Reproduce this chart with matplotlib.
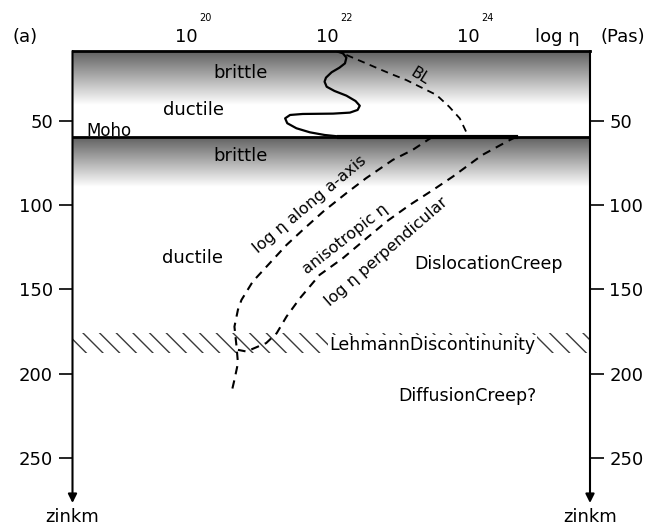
import numpy as np
import matplotlib
matplotlib.use('Agg')
import matplotlib.pyplot as plt
from matplotlib.patches import Rectangle

plt.rcParams['font.family'] = ['DejaVu Sans']

# x = log10 viscosity (Pa s), y = depth z in km
x_min, x_max = 18.22, 25.57
z_top, z_bot = 8.15, 277.0
moho = 59.3
lehmann = (175.8, 187.7)
depth_ticks = [50, 100, 150, 200, 250]
exp_ticks = [20, 22, 24]

# crustal viscosity profile (solid)
crust_x = [21.99, 22.06, 22.11, 22.09, 22.01, 21.90, 21.82, 21.80, 21.83, 21.94,
           22.11, 22.24, 22.30, 22.27, 22.16, 21.92, 21.49, 21.31, 21.24, 21.27,
           21.40, 21.59, 21.80, 22.01]
crust_z = [8.6, 9.5, 12.1, 15.5, 18.1, 20.8, 24.0, 26.4, 29.4, 31.9,
           34.7, 37.9, 40.7, 43.2, 44.8, 45.4, 45.6, 46.2, 48.2, 51.1,
           54.1, 56.5, 58.1, 59.0]
moho_seg_x = [22.00, 24.52]

# BL (dashed)
bl_x = [22.11, 22.39, 22.72, 22.96, 23.39, 23.57, 23.72, 23.81, 23.83]
bl_z = [10.5, 15.5, 21.4, 25.4, 34.3, 41.3, 48.2, 56.1, 59.3]

# log eta along a-axis
axis_x = [23.33, 23.05, 22.77, 22.39, 22.11, 21.78, 21.49, 21.26, 21.02, 20.78,
          20.62, 20.57, 20.52, 20.55, 20.57, 20.52, 20.48]
axis_z = [59.3, 67.0, 72.9, 83.8, 92.7, 103.7, 114.6, 123.5, 134.4, 145.3,
          156.2, 162.0, 172.1, 184.0, 193.8, 203.7, 210.9]

# log eta perpendicular
perp_x = [24.52, 24.43, 24.04, 23.62, 23.34, 23.01, 22.68, 22.34, 22.06, 21.73,
          21.45, 21.26, 21.12, 20.97, 20.69, 20.57]
perp_z = [59.3, 61.1, 70.0, 82.9, 90.8, 99.7, 109.6, 121.5, 131.4, 141.3,
          155.2, 166.1, 176.0, 181.9, 186.9, 185.9]

fig = plt.figure(figsize=(6.6, 5.27), dpi=100)
ax = fig.add_axes([72.5/660, 1-503/527, (590-72.5)/660, 452/527])
ax.set_xlim(x_min, x_max)
ax.set_ylim(z_bot, z_top)

# grey shading of the two brittle layers
ramp = np.linspace(0.38, 1.0, 256)[:, None]
ax.imshow(ramp, cmap='gray', vmin=0, vmax=1, aspect='auto', origin='upper',
          extent=(x_min, x_max, 40, z_top), zorder=0)
ax.imshow(ramp, cmap='gray', vmin=0, vmax=1, aspect='auto', origin='upper',
          extent=(x_min, x_max, 89, moho), zorder=0)

# Lehmann band
plt.rcParams['hatch.linewidth'] = 1.0
ax.add_patch(Rectangle((x_min, lehmann[0]), x_max-x_min, lehmann[1]-lehmann[0],
                       fill=False, hatch='\\\\', edgecolor='#3a3a3a', lw=0, zorder=1))

ax.axhline(moho, color='k', lw=2, zorder=3)
ax.plot(crust_x, crust_z, color='k', lw=1.6, zorder=4, solid_joinstyle='round')
ax.plot(moho_seg_x, [moho, moho], color='k', lw=3, zorder=4)
ax.plot(bl_x, bl_z, color='k', lw=1.3, ls=(0, (4, 3)), zorder=4)
ax.plot(axis_x, axis_z, color='k', lw=1.5, ls=(0, (4, 3)), zorder=4)
ax.plot(perp_x, perp_z, color='k', lw=1.5, ls=(0, (4, 3)), zorder=4)

fs = 12.5
ax.text(20.61, 21.2, 'brittle', fontsize=13, ha='center', va='center')
ax.text(19.94, 43.2, 'ductile', fontsize=13, ha='center', va='center')
ax.text(18.41, 55.5, 'Moho', fontsize=12, ha='left', va='center')
ax.text(20.61, 70.5, 'brittle', fontsize=13, ha='center', va='center')
ax.text(19.93, 131.2, 'ductile', fontsize=13, ha='center', va='center')
ax.text(23.08, 134.8, 'DislocationCreep', fontsize=fs, ha='left', va='center')
ax.text(21.87, 183.0, 'LehmannDiscontinunity', fontsize=fs, ha='left', va='center',
        bbox=dict(facecolor='white', edgecolor='none', pad=1), zorder=5)
ax.text(24.81, 213.2, 'DiffusionCreep?', fontsize=fs, ha='right', va='center')
ax.text(23.15, 23.4, 'BL', fontsize=11, ha='center', va='center', rotation=-32)
ax.text(21.59, 99.7, 'log η along a-axis', fontsize=11.5, ha='center', va='center', rotation=40)
ax.text(22.09, 119.9, 'anisotropic η', fontsize=11.5, ha='center', va='center', rotation=38)
ax.text(22.68, 127.5, 'log η perpendicular', fontsize=11.5, ha='center', va='center', rotation=41)

# top scale labels
for e in exp_ticks:
    ax.text(e, 1.031, '10', transform=ax.get_xaxis_transform(), fontsize=13,
            ha='right', va='center')
    ax.text(e + 0.02, 1.073, str(e), transform=ax.get_xaxis_transform(), fontsize=7,
            ha='left', va='center')
fig.text(25/660, 1-37/527, '(a)', fontsize=13, ha='center', va='center')
fig.text(535/660, 1-37/527, 'log η', fontsize=13, ha='left', va='center')
fig.text(645/660, 1-37/527, '(Pas)', fontsize=13, ha='right', va='center')

# axes frame
ax.set_xticks([])
ax.set_yticks(depth_ticks)
ax.tick_params(axis='y', left=True, right=True, labelleft=True, labelright=True,
               direction='out', length=10, width=1.2, pad=4, labelsize=13)
for s in ['left', 'right', 'bottom']:
    ax.spines[s].set_visible(False)
ax.spines['top'].set_linewidth(2)
for xs in [0, 1]:
    ax.annotate('', xy=(xs, 0), xytext=(xs, 1), xycoords='axes fraction',
                arrowprops=dict(arrowstyle='-|>', color='k', lw=1.5,
                                shrinkA=0, shrinkB=0, mutation_scale=13))
    ax.text(xs, -0.031, 'zinkm', transform=ax.transAxes, fontsize=13,
            ha='center', va='center')

fig.savefig('out.png', dpi=100)
